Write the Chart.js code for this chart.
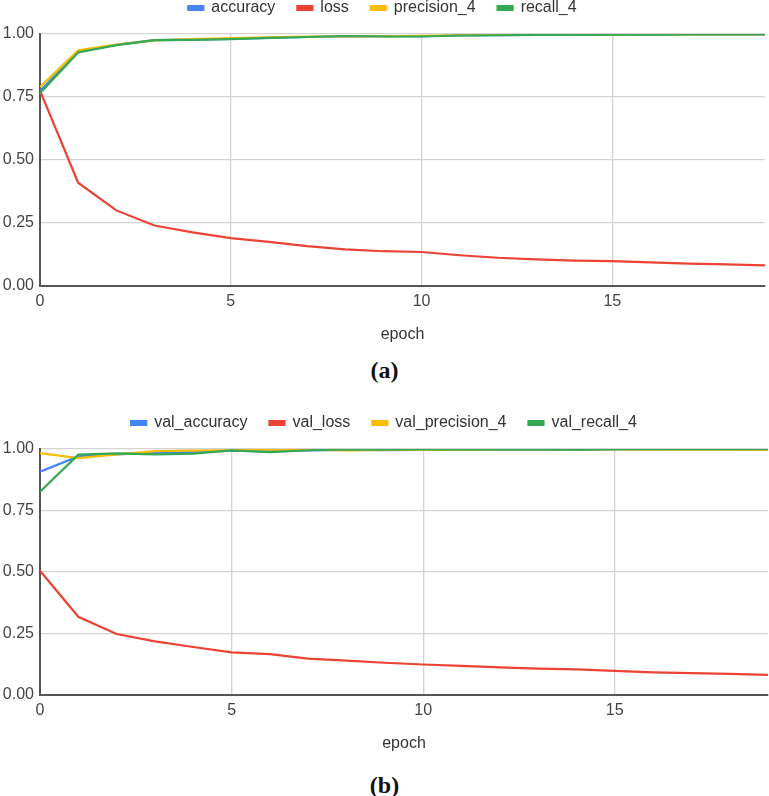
<!DOCTYPE html>
<html>
<head>
<meta charset="utf-8">
<script src="https://cdn.jsdelivr.net/npm/chart.js@4.4.0/dist/chart.umd.min.js"></script>
<style>
  body { margin: 0; background: #fff; width: 769px; height: 796px; overflow: hidden; position: relative; }
  .box { position: absolute; left: 0; width: 769px; }
  .cap { position: absolute; left: 0; width: 769px; text-align: center; font-family: "Liberation Serif", "DejaVu Serif", serif; font-weight: bold; font-size: 24px; line-height: 28px; color: #111; }
</style>
</head>
<body>
<div class="box" style="top:-22px;height:366px"><canvas id="chartA"></canvas></div>
<div class="cap" style="top:356px">(a)</div>
<div class="box" style="top:393px;height:360px"><canvas id="chartB"></canvas></div>
<div class="cap" style="top:771px">(b)</div>
<script>
// エポック
const epochs = [0,1,2,3,4,5,6,7,8,9,10,11,12,13,14,15,16,17,18,19];
const xTicks = [0, 5, 10, 15];
const yTicks = [0, 0.25, 0.5, 0.75, 1];

// (a) 学習データ
const accuracyA  = [0.775,0.930,0.957,0.976,0.978,0.981,0.985,0.988,0.991,0.991,0.991,0.994,0.995,0.996,0.996,0.997,0.997,0.998,0.998,0.998];
const lossA      = [0.775,0.410,0.300,0.240,0.213,0.190,0.175,0.158,0.145,0.138,0.135,0.122,0.112,0.106,0.101,0.099,0.094,0.089,0.086,0.082];
const precisionA = [0.790,0.935,0.958,0.975,0.980,0.984,0.987,0.990,0.990,0.991,0.993,0.995,0.996,0.996,0.997,0.997,0.998,0.998,0.998,0.998];
const recallA    = [0.765,0.927,0.956,0.976,0.977,0.980,0.985,0.988,0.992,0.990,0.990,0.994,0.995,0.996,0.996,0.997,0.997,0.998,0.998,0.998];

// (b) 検証データ
const valAccuracy  = [0.908,0.970,0.978,0.985,0.987,0.993,0.990,0.994,0.996,0.995,0.996,0.997,0.997,0.997,0.996,0.998,0.998,0.998,0.998,0.998];
const valLoss      = [0.505,0.318,0.248,0.218,0.195,0.173,0.166,0.148,0.140,0.131,0.124,0.118,0.112,0.107,0.104,0.098,0.092,0.089,0.086,0.082];
const valPrecision = [0.983,0.963,0.978,0.991,0.993,0.995,0.998,0.997,0.994,0.996,0.996,0.997,0.998,0.998,0.998,0.998,0.997,0.997,0.997,0.996];
const valRecall    = [0.826,0.977,0.982,0.978,0.981,0.994,0.987,0.995,0.998,0.997,0.998,0.998,0.998,0.998,0.997,0.999,0.999,0.999,0.999,0.999];

const names = {
  a: ["accuracy", "loss", "precision_4", "recall_4"],
  b: ["val_accuracy", "val_loss", "val_precision_4", "val_recall_4"],
};
const colors = ["#4285F4", "#EA4335", "#FBBC04", "#34A853"];
const font = "'Liberation Sans', Arial, sans-serif";

function toPoints(values) {
  return epochs.map((e, i) => ({ x: e, y: values[i] }));
}

// 凡例の高さを固定する
const legendHeight = {
  id: "legendHeight",
  beforeInit(chart) {
    const fit = chart.legend.fit;
    chart.legend.fit = function () {
      fit.call(this);
      this.height = 56;
    };
  },
};

// グラフを描画
function drawGraph(id, labels, series, padRight) {
  const ctx = document.getElementById(id).getContext("2d");
  return new Chart(ctx, {
    type: "line",
    data: {
      datasets: series.map((values, i) => ({
        label: labels[i],
        data: toPoints(values),
        borderColor: colors[i],
        backgroundColor: colors[i],
        borderWidth: 2.2,
        pointRadius: 0,
        tension: 0,
        order: 3 - i,
      })),
    },
    plugins: [legendHeight],
    options: {
      responsive: true,
      maintainAspectRatio: false,
      animation: false,
      layout: { padding: { left: 0, right: padRight, top: 0, bottom: 0 } },
      plugins: {
        tooltip: { enabled: false },
        legend: {
          position: "top",
          labels: {
            sort: (a, b) => a.datasetIndex - b.datasetIndex,
            boxWidth: 15,
            boxHeight: 4,
            padding: 22,
            color: "#333",
            font: { family: font, size: 16 },
          },
        },
      },
      scales: {
        x: {
          type: "linear",
          min: 0,
          max: 19,
          afterBuildTicks: (scale) => { scale.ticks = xTicks.map((v) => ({ value: v })); },
          afterFit: (scale) => { scale.height = 58; },
          ticks: { color: "#444", font: { family: font, size: 16 }, maxRotation: 0, padding: 6 },
          grid: { color: "#d4d4d4", lineWidth: 1.3, drawTicks: false },
          border: { color: "#555", width: 2 },
          title: { display: true, text: "epoch", color: "#333", font: { family: font, size: 16 }, padding: { top: 14, bottom: 0 } },
        },
        y: {
          min: 0,
          max: 1,
          afterBuildTicks: (scale) => { scale.ticks = yTicks.map((v) => ({ value: v })); },
          afterFit: (scale) => { scale.width = 40; },
          ticks: { color: "#444", font: { family: font, size: 16 }, padding: 6, callback: (v) => v.toFixed(2) },
          grid: { color: "#d4d4d4", lineWidth: 1.3, drawTicks: false },
          border: { color: "#555", width: 2 },
        },
      },
    },
  });
}

drawGraph("chartA", names.a, [accuracyA, lossA, precisionA, recallA], 4);
drawGraph("chartB", names.b, [valAccuracy, valLoss, valPrecision, valRecall], 1);
</script>
</body>
</html>
